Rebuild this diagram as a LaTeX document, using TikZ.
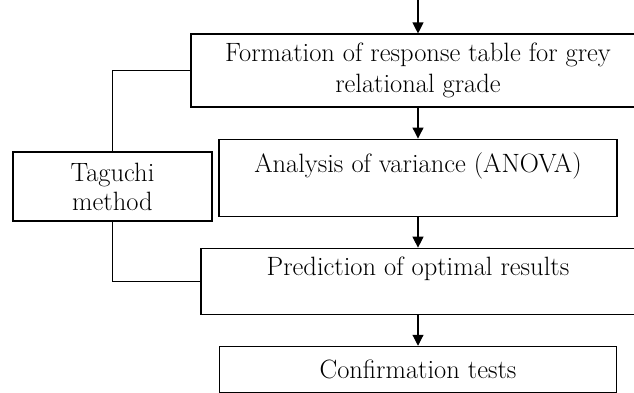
\documentclass[tikz,border=0pt]{standalone}
\usetikzlibrary{positioning,arrows.meta}
\begin{document}
\begin{tikzpicture}[x=1pt,y=1pt,->,>={Triangle[width=11pt,length=11pt]},
                    line width=1.1pt,node distance=31pt]
  \tikzset{box/.style={draw,align=center,inner sep=0pt,
                       font=\fontsize{26.5}{31}\selectfont}}
  \useasboundingbox (0,0) rectangle (634,-392);

  \coordinate (in) at (418,0);
  \node[box,minimum width=454pt,minimum height=73pt] (form) at (418,-70.5)
       {Formation of response table for grey\\relational grade};
  \node[box,minimum width=398pt,minimum height=77pt] (anova) [below=of form]
       {Analysis of variance (ANOVA)\\\mbox{}};
  \node[box,minimum width=434pt,minimum height=66pt] (pred) [below=of anova]
       {Prediction of optimal results\\\mbox{}};
  \node[box,minimum width=397pt,minimum height=46pt] (conf) [below=of pred]
       {Confirmation tests};
  \node[box,minimum width=199pt,minimum height=69pt,
        font=\fontsize{26.5}{29}\selectfont] (tag) at (112.5,-186.5)
       {Taguchi\\method};

  \path (in)    edge (form)
        (form)  edge (anova)
        (anova) edge (pred)
        (pred)  edge (conf);
  \draw[-] (form.west) -| (tag.north);
  \draw[-] (tag.south) |- (pred.west);
\end{tikzpicture}
\end{document}
